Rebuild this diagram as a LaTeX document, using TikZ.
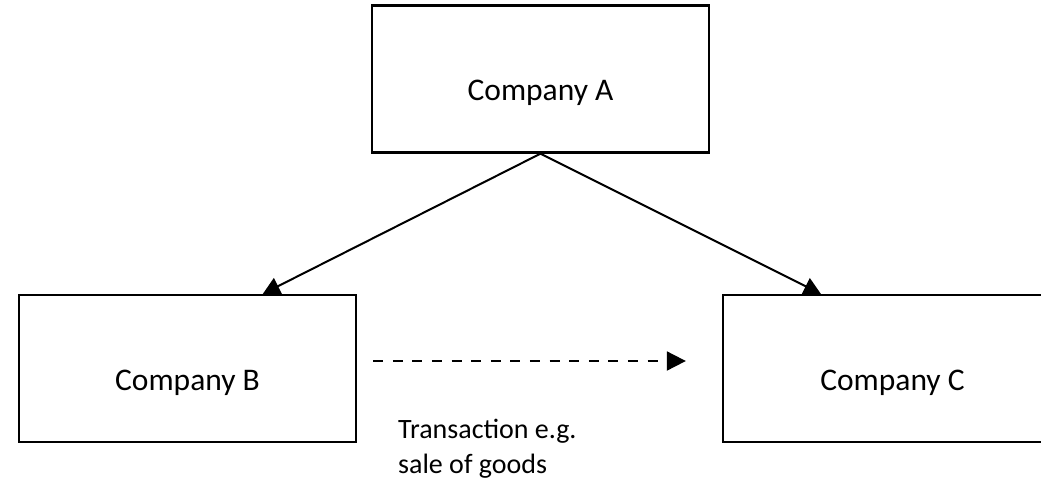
\documentclass[tikz,border=0pt]{standalone}
\usepackage{fontspec}
\setmainfont{Carlito}
\usetikzlibrary{arrows.meta,calc}
\begin{document}
\begin{tikzpicture}[x=1pt,y=-1pt,
  company/.style={draw=black,line width=2.3pt,minimum width=337pt,minimum height=147pt,inner sep=0pt,
    text height=43pt,text depth=0pt,font=\fontsize{31.5}{36}\selectfont},
  link/.style={line width=2pt,-{Triangle[length=17pt,width=18pt]}},
  deal/.style={line width=1.9pt,dash pattern=on 10pt off 9.6pt,-{Triangle[length=19pt,width=19pt]}},
  note/.style={font=\fontsize{28}{34.5}\selectfont,align=left,inner sep=0pt}]
\clip (0,0) rectangle (1041,480);
\fill[white] (0,0) rectangle (1041,480);
\node[company] (A) at (540.5,79) {Company A};
\node[company] (B) at (187.5,368.5) {Company B};
\node[company,minimum width=339pt] (C) at (892.5,368.5) {Company C};
\draw[link] (A.south) -- ($(B.north west)+(245,0)$);
\draw[link] (A.south) -- ($(C.north west)+(99,0)$);
\draw[deal] ($(B.east)+(16,-7.5)$) -- ($(C.west)+(-36,-7.5)$);
\node[note,anchor=base west] (T) at (398,473) {Transaction e.g.\\sale of goods};
\end{tikzpicture}
\end{document}
